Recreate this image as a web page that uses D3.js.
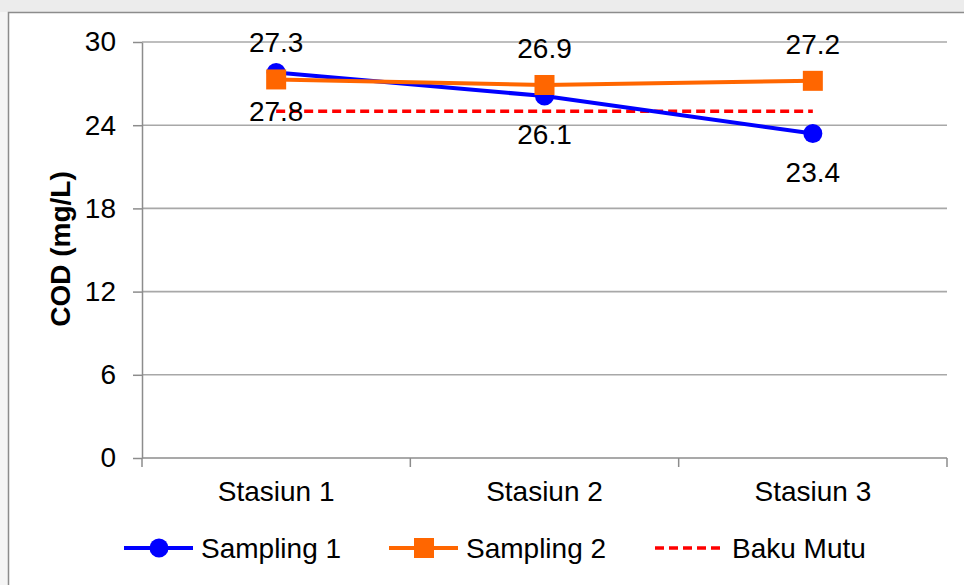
<!DOCTYPE html>
<html>
<head>
<meta charset="utf-8">
<script src="https://cdn.jsdelivr.net/npm/d3@7"></script>
<style>
  html, body { margin: 0; padding: 0; background: #fff; }
  svg { display: block; font-family: "Liberation Sans", Arial, sans-serif; }
</style>
</head>
<body>
<svg id="chart" width="964" height="585"></svg>
<script>
// COD measurements per station
const stations = ["Stasiun 1", "Stasiun 2", "Stasiun 3"];
const sampling1 = [27.8, 26.1, 23.4];
const sampling2 = [27.3, 26.9, 27.2];
const bakuMutu = [25, 25, 25];
const yTicks = [0, 6, 12, 18, 24, 30];
const seriesNames = ["Sampling 1", "Sampling 2", "Baku Mutu"];

const W = 964, H = 585;
const plot = { left: 142, right: 947, top: 42, bottom: 458 };

const svg = d3.select("#chart");

// chart frame
svg.append("rect").attr("x", 0).attr("y", 0).attr("width", W).attr("height", 12).attr("fill", "#ececec");
svg.append("rect").attr("x", 0).attr("y", 12).attr("width", 8).attr("height", H - 12).attr("fill", "#f5f5f5");
svg.append("path")
  .attr("d", `M8.5,${H} V12.5 H${W}`)
  .attr("fill", "none").attr("stroke", "#8c8c8c").attr("stroke-width", 1.5);

const x = d3.scaleBand().domain(stations).range([plot.left, plot.right]);
const y = d3.scaleLinear().domain([0, 30]).range([plot.bottom, plot.top]);
const cx = s => x(s) + x.bandwidth() / 2;

// horizontal gridlines
svg.append("g").selectAll("line")
  .data(yTicks.filter(t => t > 0))
  .join("line")
  .attr("x1", plot.left).attr("x2", plot.right)
  .attr("y1", d => y(d)).attr("y2", d => y(d))
  .attr("stroke", "#a8a8a8").attr("stroke-width", 1.6);

// y axis
const yAxis = svg.append("g")
  .attr("transform", `translate(${plot.left},0)`)
  .call(d3.axisLeft(y).tickValues(yTicks).tickSize(9).tickPadding(17).tickSizeOuter(0));
yAxis.select(".domain").attr("stroke", "#8c8c8c").attr("stroke-width", 1.5);
yAxis.selectAll(".tick line").attr("stroke", "#8c8c8c").attr("stroke-width", 1.5);
yAxis.selectAll(".tick text")
  .attr("font-size", 28).attr("fill", "#000")
  .attr("font-family", "Liberation Sans, Arial, sans-serif");

// x axis with ticks at band edges
const xAxisG = svg.append("g").attr("transform", `translate(0,${plot.bottom})`);
xAxisG.append("line")
  .attr("x1", plot.left).attr("x2", plot.right)
  .attr("stroke", "#8c8c8c").attr("stroke-width", 1.5);
const edges = stations.map(s => x(s)).concat([plot.right]);
xAxisG.selectAll("line.edge").data(edges).join("line")
  .attr("class", "edge")
  .attr("x1", d => d).attr("x2", d => d)
  .attr("y1", 0).attr("y2", 9)
  .attr("stroke", "#8c8c8c").attr("stroke-width", 1.5);
xAxisG.selectAll("text").data(stations).join("text")
  .attr("x", d => cx(d)).attr("y", 43)
  .attr("text-anchor", "middle")
  .attr("font-size", 28).attr("fill", "#000")
  .text(d => d);

// y axis title
svg.append("text")
  .attr("transform", `translate(70,249) rotate(-90)`)
  .attr("text-anchor", "middle")
  .attr("font-size", 28).attr("font-weight", "bold")
  .text("COD (mg/L)");

const line = d3.line().x((d, i) => cx(stations[i])).y(d => y(d));

// standard threshold
svg.append("path").datum(bakuMutu)
  .attr("d", line).attr("fill", "none")
  .attr("stroke", "#ff0000").attr("stroke-width", 3.5)
  .attr("stroke-dasharray", "9,5");

// Sampling 1
svg.append("path").datum(sampling1)
  .attr("d", line).attr("fill", "none")
  .attr("stroke", "#0000ff").attr("stroke-width", 4);
svg.append("g").selectAll("circle").data(sampling1).join("circle")
  .attr("cx", (d, i) => cx(stations[i])).attr("cy", d => y(d))
  .attr("r", 9.5).attr("fill", "#0000ff");

// Sampling 2
svg.append("path").datum(sampling2)
  .attr("d", line).attr("fill", "none")
  .attr("stroke", "#ff6600").attr("stroke-width", 4);
svg.append("g").selectAll("rect").data(sampling2).join("rect")
  .attr("x", (d, i) => cx(stations[i]) - 10).attr("y", d => y(d) - 10)
  .attr("width", 20).attr("height", 20).attr("fill", "#ff6600");

// value labels
svg.append("g").selectAll("text").data(sampling1).join("text")
  .attr("x", (d, i) => cx(stations[i])).attr("y", d => y(d) + 48)
  .attr("text-anchor", "middle").attr("font-size", 28)
  .text(d => d.toFixed(1));
svg.append("g").selectAll("text").data(sampling2).join("text")
  .attr("x", (d, i) => cx(stations[i])).attr("y", d => y(d) - 27)
  .attr("text-anchor", "middle").attr("font-size", 28)
  .text(d => d.toFixed(1));

// legend
const legendY = 548;
const legend = [
  { name: seriesNames[0], color: "#0000ff", x: 124, marker: "circle", dash: null },
  { name: seriesNames[1], color: "#ff6600", x: 389, marker: "square", dash: null },
  { name: seriesNames[2], color: "#ff0000", x: 655, marker: null, dash: "9,5" }
];
const lg = svg.append("g").selectAll("g").data(legend).join("g")
  .attr("transform", d => `translate(${d.x},${legendY})`);
lg.append("line")
  .attr("x1", 0).attr("x2", 69).attr("y1", 0).attr("y2", 0)
  .attr("stroke", d => d.color).attr("stroke-width", d => d.dash ? 3.5 : 4)
  .attr("stroke-dasharray", d => d.dash);
lg.filter(d => d.marker === "circle").append("circle")
  .attr("cx", 35).attr("r", 9.5).attr("fill", d => d.color);
lg.filter(d => d.marker === "square").append("rect")
  .attr("x", 25).attr("y", -10).attr("width", 20).attr("height", 20).attr("fill", d => d.color);
lg.append("text")
  .attr("x", 77).attr("y", 10)
  .attr("font-size", 28)
  .text(d => d.name);
</script>
</body>
</html>
